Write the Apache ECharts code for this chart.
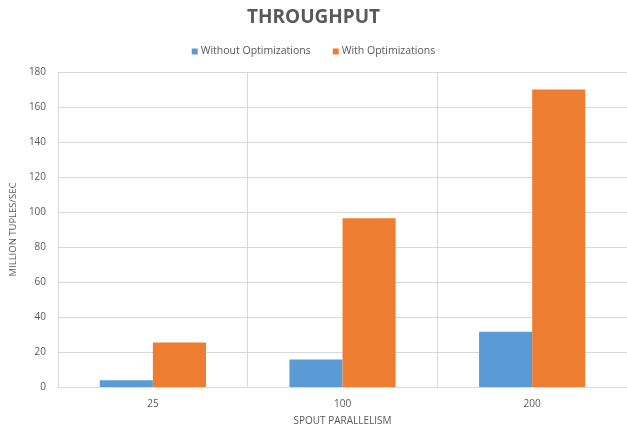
<!DOCTYPE html>
<html>
<head>
<meta charset="utf-8">
<script src="https://cdn.jsdelivr.net/npm/echarts@6/dist/echarts.min.js"></script>
<style>
html,body{margin:0;padding:0;background:#fff;}
#chart{width:627px;height:431px;}
</style>
</head>
<body>
<div id="chart"></div>
<script>
// Throughput by spout parallelism
const categories = ['25', '100', '200'];
const withoutOpt = [3.8, 15.7, 31.6];
const withOpt = [25.5, 96.5, 170];
const yTicks = [0, 20, 40, 60, 80, 100, 120, 140, 160, 180];

const font = '"Open Sans", "Noto Sans", sans-serif';
const chart = echarts.init(document.getElementById('chart'));
chart.setOption({
  animation: false,
  backgroundColor: '#fff',
  title: {
    text: 'THROUGHPUT',
    left: 'center',
    top: 3,
    textStyle: { fontFamily: font, fontSize: 19, fontWeight: 'bold', color: '#595959' }
  },
  legend: {
    top: 41,
    left: 'center',
    itemWidth: 6,
    itemHeight: 6,
    itemGap: 22,
    icon: 'rect',
    textStyle: { fontFamily: font, fontSize: 10.5, color: '#595959', padding: [0, 0, 0, -2] },
    data: ['Without Optimizations', 'With Optimizations']
  },
  grid: { left: 55, right: -5, top: 72, bottom: 42 },
  xAxis: {
    type: 'category',
    data: categories,
    name: 'SPOUT PARALLELISM',
    nameLocation: 'middle',
    nameGap: 29,
    nameTextStyle: { fontFamily: font, fontSize: 10, color: '#595959' },
    axisLine: { lineStyle: { color: '#d9d9d9' } },
    axisTick: { show: false },
    axisLabel: { fontFamily: font, fontSize: 10, color: '#595959', margin: 12 },
    splitLine: { show: true, lineStyle: { color: '#d9d9d9' } }
  },
  yAxis: {
    type: 'value',
    min: yTicks[0],
    max: yTicks[yTicks.length - 1],
    interval: yTicks[1] - yTicks[0],
    name: 'MILLION TUPLES/SEC',
    nameLocation: 'middle',
    nameGap: 31,
    nameTextStyle: { fontFamily: font, fontSize: 9.5, color: '#595959' },
    axisLine: { show: false },
    axisTick: { show: false },
    axisLabel: { fontFamily: font, fontSize: 10, color: '#595959', margin: 12 },
    splitLine: { lineStyle: { color: '#d9d9d9' } }
  },
  series: [
    {
      name: 'Without Optimizations',
      type: 'bar',
      data: withoutOpt,
      barGap: '0%',
      barCategoryGap: '44%',
      itemStyle: { color: '#5B9BD5' }
    },
    {
      name: 'With Optimizations',
      type: 'bar',
      data: withOpt,
      barGap: '0%',
      barCategoryGap: '44%',
      itemStyle: { color: '#ED7D31' }
    }
  ]
});
</script>
</body>
</html>
